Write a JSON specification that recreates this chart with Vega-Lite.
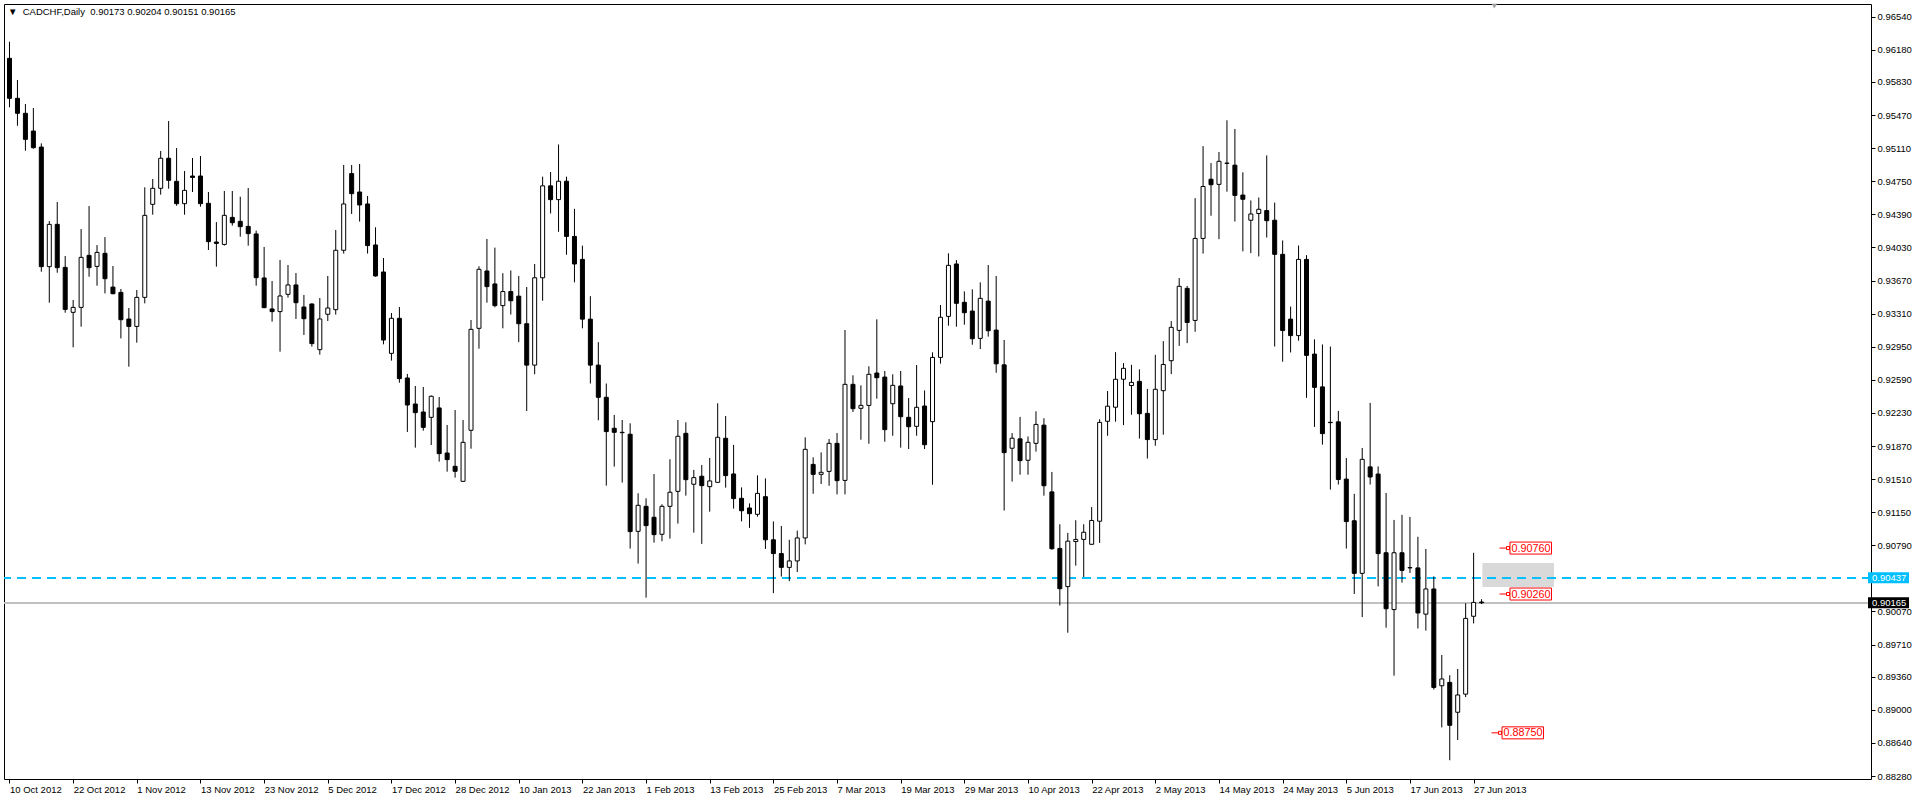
{
"$schema": "https://vega.github.io/schema/vega-lite/v6.json",
"width": 1867, "height": 775,
"autosize": {"type": "none"},
"padding": {"left": 4, "top": 4, "right": 45, "bottom": 20},
"background": "white",
"config": {"view": {"stroke": "black", "strokeWidth": 1}, "font": "Liberation Sans"},
"title": {"text": "▼\u00a0 CADCHF,Daily\u00a0 0.90173 0.90204 0.90151 0.90165", "anchor": "start", "frame": "group", "offset": -13, "dx": 4, "fontSize": 9.5, "fontWeight": "normal", "font": "Liberation Sans", "color": "black"},
"resolve": {"axis": {"x": "independent", "y": "independent"}},
"datasets": {
"ohlc": [
{"i":0,"o":0.96087,"h":0.96268,"l":0.95554,"c":0.95652},
{"i":1,"o":0.95652,"h":0.95851,"l":0.95354,"c":0.95489},
{"i":2,"o":0.95489,"h":0.95590,"l":0.95082,"c":0.95206},
{"i":3,"o":0.95296,"h":0.95547,"l":0.95104,"c":0.95115},
{"i":4,"o":0.95122,"h":0.95162,"l":0.93766,"c":0.93821},
{"i":5,"o":0.93821,"h":0.94317,"l":0.93429,"c":0.94281},
{"i":6,"o":0.94281,"h":0.94524,"l":0.93755,"c":0.93810},
{"i":7,"o":0.93813,"h":0.93937,"l":0.93320,"c":0.93356},
{"i":8,"o":0.93324,"h":0.93458,"l":0.92943,"c":0.93378},
{"i":9,"o":0.93378,"h":0.94230,"l":0.93168,"c":0.93922},
{"i":10,"o":0.93944,"h":0.94480,"l":0.93712,"c":0.93810},
{"i":11,"o":0.93824,"h":0.94056,"l":0.93614,"c":0.93976},
{"i":12,"o":0.93966,"h":0.94143,"l":0.93530,"c":0.93690},
{"i":13,"o":0.93599,"h":0.93828,"l":0.93520,"c":0.93527},
{"i":14,"o":0.93541,"h":0.93578,"l":0.93041,"c":0.93244},
{"i":15,"o":0.93251,"h":0.93371,"l":0.92733,"c":0.93171},
{"i":16,"o":0.93171,"h":0.93567,"l":0.92994,"c":0.93487},
{"i":17,"o":0.93487,"h":0.94684,"l":0.93422,"c":0.94379},
{"i":18,"o":0.94499,"h":0.94774,"l":0.94386,"c":0.94673},
{"i":19,"o":0.94673,"h":0.95079,"l":0.94604,"c":0.95000},
{"i":20,"o":0.95000,"h":0.95405,"l":0.94669,"c":0.94760},
{"i":21,"o":0.94749,"h":0.95111,"l":0.94484,"c":0.94506},
{"i":22,"o":0.94506,"h":0.94861,"l":0.94386,"c":0.94651},
{"i":23,"o":0.94807,"h":0.95003,"l":0.94633,"c":0.94792},
{"i":24,"o":0.94807,"h":0.95024,"l":0.94473,"c":0.94506},
{"i":25,"o":0.94510,"h":0.94633,"l":0.94002,"c":0.94093},
{"i":26,"o":0.94089,"h":0.94306,"l":0.93821,"c":0.94074},
{"i":27,"o":0.94063,"h":0.94644,"l":0.94050,"c":0.94379},
{"i":28,"o":0.94357,"h":0.94644,"l":0.94267,"c":0.94299},
{"i":29,"o":0.94314,"h":0.94582,"l":0.94147,"c":0.94256},
{"i":30,"o":0.94259,"h":0.94676,"l":0.94049,"c":0.94180},
{"i":31,"o":0.94177,"h":0.94213,"l":0.93614,"c":0.93701},
{"i":32,"o":0.93698,"h":0.94035,"l":0.93370,"c":0.93375},
{"i":33,"o":0.93361,"h":0.93665,"l":0.93223,"c":0.93332},
{"i":34,"o":0.93332,"h":0.93894,"l":0.92896,"c":0.93502},
{"i":35,"o":0.93520,"h":0.93839,"l":0.93484,"c":0.93622},
{"i":36,"o":0.93622,"h":0.93752,"l":0.93252,"c":0.93429},
{"i":37,"o":0.93382,"h":0.93513,"l":0.93078,"c":0.93255},
{"i":38,"o":0.93415,"h":0.93420,"l":0.92951,"c":0.92984},
{"i":39,"o":0.92918,"h":0.93480,"l":0.92864,"c":0.93252},
{"i":40,"o":0.93303,"h":0.93720,"l":0.93230,"c":0.93371},
{"i":41,"o":0.93353,"h":0.94220,"l":0.93299,"c":0.93999},
{"i":42,"o":0.93999,"h":0.94927,"l":0.93963,"c":0.94503},
{"i":43,"o":0.94833,"h":0.94927,"l":0.94394,"c":0.94615},
{"i":44,"o":0.94633,"h":0.94938,"l":0.94311,"c":0.94492},
{"i":45,"o":0.94503,"h":0.94590,"l":0.93963,"c":0.94050},
{"i":46,"o":0.94057,"h":0.94249,"l":0.93712,"c":0.93720},
{"i":47,"o":0.93763,"h":0.93915,"l":0.92976,"c":0.93023},
{"i":48,"o":0.92878,"h":0.93317,"l":0.92799,"c":0.93259},
{"i":49,"o":0.93259,"h":0.93382,"l":0.92559,"c":0.92603},
{"i":50,"o":0.92610,"h":0.92654,"l":0.92023,"c":0.92316},
{"i":51,"o":0.92327,"h":0.92523,"l":0.91852,"c":0.92233},
{"i":52,"o":0.92240,"h":0.92512,"l":0.92037,"c":0.92073},
{"i":53,"o":0.92182,"h":0.92420,"l":0.91881,"c":0.92411},
{"i":54,"o":0.92284,"h":0.92403,"l":0.91700,"c":0.91787},
{"i":55,"o":0.91794,"h":0.92099,"l":0.91591,"c":0.91722},
{"i":56,"o":0.91649,"h":0.92262,"l":0.91526,"c":0.91595},
{"i":57,"o":0.91486,"h":0.92153,"l":0.91480,"c":0.91910},
{"i":58,"o":0.92041,"h":0.93241,"l":0.91841,"c":0.93139},
{"i":59,"o":0.93150,"h":0.93825,"l":0.92929,"c":0.93792},
{"i":60,"o":0.93774,"h":0.94122,"l":0.93429,"c":0.93604},
{"i":61,"o":0.93633,"h":0.94028,"l":0.93379,"c":0.93397},
{"i":62,"o":0.93397,"h":0.93750,"l":0.93150,"c":0.93550},
{"i":63,"o":0.93550,"h":0.93780,"l":0.93300,"c":0.93450},
{"i":64,"o":0.93500,"h":0.93720,"l":0.93000,"c":0.93200},
{"i":65,"o":0.93200,"h":0.93600,"l":0.92250,"c":0.92750},
{"i":66,"o":0.92750,"h":0.93850,"l":0.92650,"c":0.93700},
{"i":67,"o":0.93700,"h":0.94800,"l":0.93450,"c":0.94700},
{"i":68,"o":0.94700,"h":0.94850,"l":0.94400,"c":0.94550},
{"i":69,"o":0.94550,"h":0.95150,"l":0.94200,"c":0.94750},
{"i":70,"o":0.94750,"h":0.94800,"l":0.93950,"c":0.94150},
{"i":71,"o":0.94150,"h":0.94450,"l":0.93650,"c":0.93850},
{"i":72,"o":0.93900,"h":0.94050,"l":0.93150,"c":0.93250},
{"i":73,"o":0.93250,"h":0.93500,"l":0.92550,"c":0.92750},
{"i":74,"o":0.92750,"h":0.93000,"l":0.92150,"c":0.92400},
{"i":75,"o":0.92400,"h":0.92550,"l":0.91439,"c":0.92027},
{"i":76,"o":0.92063,"h":0.92208,"l":0.91646,"c":0.92019},
{"i":77,"o":0.92015,"h":0.92153,"l":0.91472,"c":0.92019},
{"i":78,"o":0.91998,"h":0.92117,"l":0.90754,"c":0.90939},
{"i":79,"o":0.90942,"h":0.91356,"l":0.90591,"c":0.91225},
{"i":80,"o":0.91214,"h":0.91301,"l":0.90221,"c":0.91004},
{"i":81,"o":0.91095,"h":0.91566,"l":0.90819,"c":0.90906},
{"i":82,"o":0.90910,"h":0.91236,"l":0.90834,"c":0.91214},
{"i":83,"o":0.91214,"h":0.91726,"l":0.90863,"c":0.91367},
{"i":84,"o":0.91377,"h":0.92153,"l":0.91026,"c":0.91976},
{"i":85,"o":0.92008,"h":0.92128,"l":0.91330,"c":0.91504},
{"i":86,"o":0.91454,"h":0.91610,"l":0.90928,"c":0.91526},
{"i":87,"o":0.91541,"h":0.91664,"l":0.90805,"c":0.91439},
{"i":88,"o":0.91428,"h":0.91740,"l":0.91156,"c":0.91490},
{"i":89,"o":0.91475,"h":0.92335,"l":0.91470,"c":0.91965},
{"i":90,"o":0.91954,"h":0.92197,"l":0.91417,"c":0.91548},
{"i":91,"o":0.91566,"h":0.91882,"l":0.91189,"c":0.91298},
{"i":92,"o":0.91301,"h":0.91420,"l":0.91050,"c":0.91166},
{"i":93,"o":0.91196,"h":0.91246,"l":0.90980,"c":0.91134},
{"i":94,"o":0.91127,"h":0.91551,"l":0.91101,"c":0.91355},
{"i":95,"o":0.91319,"h":0.91518,"l":0.90750,"c":0.90850},
{"i":96,"o":0.90850,"h":0.91050,"l":0.90270,"c":0.90700},
{"i":97,"o":0.90700,"h":0.91000,"l":0.90450,"c":0.90550},
{"i":98,"o":0.90550,"h":0.90850,"l":0.90400,"c":0.90620},
{"i":99,"o":0.90620,"h":0.90950,"l":0.90500,"c":0.90870},
{"i":100,"o":0.90870,"h":0.91964,"l":0.90800,"c":0.91834},
{"i":101,"o":0.91670,"h":0.91747,"l":0.91351,"c":0.91562},
{"i":102,"o":0.91562,"h":0.91801,"l":0.91457,"c":0.91584},
{"i":103,"o":0.91594,"h":0.91946,"l":0.91438,"c":0.91899},
{"i":104,"o":0.91899,"h":0.92011,"l":0.91344,"c":0.91493},
{"i":105,"o":0.91496,"h":0.93132,"l":0.91344,"c":0.92541},
{"i":106,"o":0.92541,"h":0.92639,"l":0.92240,"c":0.92276},
{"i":107,"o":0.92280,"h":0.92530,"l":0.91939,"c":0.92312},
{"i":108,"o":0.92312,"h":0.92737,"l":0.91895,"c":0.92650},
{"i":109,"o":0.92664,"h":0.93248,"l":0.92385,"c":0.92613},
{"i":110,"o":0.92620,"h":0.92686,"l":0.91917,"c":0.92048},
{"i":111,"o":0.92330,"h":0.92650,"l":0.91982,"c":0.92530},
{"i":112,"o":0.92523,"h":0.92686,"l":0.91852,"c":0.92189},
{"i":113,"o":0.92182,"h":0.92392,"l":0.91837,"c":0.92080},
{"i":114,"o":0.92084,"h":0.92751,"l":0.91982,"c":0.92291},
{"i":115,"o":0.92305,"h":0.92475,"l":0.91837,"c":0.91884},
{"i":116,"o":0.92135,"h":0.92889,"l":0.91449,"c":0.92834},
{"i":117,"o":0.92834,"h":0.93404,"l":0.92766,"c":0.93270},
{"i":118,"o":0.93280,"h":0.93966,"l":0.93179,"c":0.93835},
{"i":119,"o":0.93850,"h":0.93893,"l":0.93168,"c":0.93422},
{"i":120,"o":0.93433,"h":0.93552,"l":0.93190,"c":0.93320},
{"i":121,"o":0.93338,"h":0.93574,"l":0.92972,"c":0.93037},
{"i":122,"o":0.93041,"h":0.93650,"l":0.92925,"c":0.93476},
{"i":123,"o":0.93446,"h":0.93839,"l":0.93060,"c":0.93124},
{"i":124,"o":0.93131,"h":0.93719,"l":0.92667,"c":0.92764},
{"i":125,"o":0.92753,"h":0.93023,"l":0.91168,"c":0.91798},
{"i":126,"o":0.91846,"h":0.92011,"l":0.91483,"c":0.91955},
{"i":127,"o":0.91948,"h":0.92187,"l":0.91558,"c":0.91711},
{"i":128,"o":0.91715,"h":0.91974,"l":0.91558,"c":0.91910},
{"i":129,"o":0.91899,"h":0.92247,"l":0.91809,"c":0.92105},
{"i":130,"o":0.92097,"h":0.92172,"l":0.91330,"c":0.91438},
{"i":131,"o":0.91371,"h":0.91588,"l":0.90741,"c":0.90753},
{"i":132,"o":0.90756,"h":0.91019,"l":0.90135,"c":0.90318},
{"i":133,"o":0.90341,"h":0.90925,"l":0.89839,"c":0.90835},
{"i":134,"o":0.90831,"h":0.91063,"l":0.90569,"c":0.90854},
{"i":135,"o":0.90854,"h":0.91019,"l":0.90445,"c":0.90932},
{"i":136,"o":0.90801,"h":0.91206,"l":0.90795,"c":0.91060},
{"i":137,"o":0.91052,"h":0.92161,"l":0.90816,"c":0.92127},
{"i":138,"o":0.92139,"h":0.92468,"l":0.91981,"c":0.92303},
{"i":139,"o":0.92292,"h":0.92891,"l":0.92135,"c":0.92596},
{"i":140,"o":0.92596,"h":0.92772,"l":0.92097,"c":0.92715},
{"i":141,"o":0.92528,"h":0.92753,"l":0.92210,"c":0.92562},
{"i":142,"o":0.92573,"h":0.92704,"l":0.91951,"c":0.92221},
{"i":143,"o":0.92225,"h":0.92491,"l":0.91734,"c":0.91940},
{"i":144,"o":0.91940,"h":0.92862,"l":0.91873,"c":0.92487},
{"i":145,"o":0.92472,"h":0.93011,"l":0.91993,"c":0.92757},
{"i":146,"o":0.92798,"h":0.93229,"l":0.92652,"c":0.93161},
{"i":147,"o":0.93128,"h":0.93697,"l":0.92959,"c":0.93607},
{"i":148,"o":0.93585,"h":0.93611,"l":0.92989,"c":0.93214},
{"i":149,"o":0.93236,"h":0.94566,"l":0.93113,"c":0.94128},
{"i":150,"o":0.94128,"h":0.95132,"l":0.93963,"c":0.94693},
{"i":151,"o":0.94772,"h":0.94948,"l":0.94375,"c":0.94712},
{"i":152,"o":0.94716,"h":0.95068,"l":0.94120,"c":0.94967},
{"i":153,"o":0.94944,"h":0.95413,"l":0.94637,"c":0.94948},
{"i":154,"o":0.94925,"h":0.95319,"l":0.94312,"c":0.94596},
{"i":155,"o":0.94600,"h":0.94847,"l":0.93987,"c":0.94554},
{"i":156,"o":0.94326,"h":0.94541,"l":0.93968,"c":0.94394},
{"i":157,"o":0.94399,"h":0.94573,"l":0.93932,"c":0.94445},
{"i":158,"o":0.94431,"h":0.95031,"l":0.94138,"c":0.94321},
{"i":159,"o":0.94326,"h":0.94518,"l":0.92952,"c":0.93955},
{"i":160,"o":0.93955,"h":0.94106,"l":0.92787,"c":0.93126},
{"i":161,"o":0.93250,"h":0.93387,"l":0.92888,"c":0.93071},
{"i":162,"o":0.93071,"h":0.94051,"l":0.93016,"c":0.93900},
{"i":163,"o":0.93900,"h":0.93946,"l":0.92394,"c":0.92856},
{"i":164,"o":0.92870,"h":0.93030,"l":0.92078,"c":0.92508},
{"i":165,"o":0.92513,"h":0.92975,"l":0.91885,"c":0.92005},
{"i":166,"o":0.92128,"h":0.92952,"l":0.91396,"c":0.92124},
{"i":167,"o":0.92133,"h":0.92252,"l":0.91451,"c":0.91506},
{"i":168,"o":0.91510,"h":0.91739,"l":0.90755,"c":0.91048},
{"i":169,"o":0.91057,"h":0.91350,"l":0.90260,"c":0.90485},
{"i":170,"o":0.90485,"h":0.91849,"l":0.90009,"c":0.91725},
{"i":171,"o":0.91643,"h":0.92339,"l":0.91451,"c":0.91533},
{"i":172,"o":0.91565,"h":0.91648,"l":0.90343,"c":0.90700},
{"i":173,"o":0.90709,"h":0.91359,"l":0.89894,"c":0.90100},
{"i":174,"o":0.90091,"h":0.91066,"l":0.89372,"c":0.90709},
{"i":175,"o":0.90709,"h":0.91121,"l":0.90384,"c":0.90517},
{"i":176,"o":0.90544,"h":0.91098,"l":0.90489,"c":0.90548},
{"i":177,"o":0.90544,"h":0.90883,"l":0.89885,"c":0.90054},
{"i":178,"o":0.90041,"h":0.90750,"l":0.89862,"c":0.90315},
{"i":179,"o":0.90315,"h":0.90452,"l":0.89221,"c":0.89244},
{"i":180,"o":0.89262,"h":0.89597,"l":0.88809,"c":0.89336},
{"i":181,"o":0.89299,"h":0.89377,"l":0.88452,"c":0.88832},
{"i":182,"o":0.88974,"h":0.89445,"l":0.88672,"c":0.89162},
{"i":183,"o":0.89171,"h":0.90160,"l":0.89139,"c":0.89995},
{"i":184,"o":0.90018,"h":0.90709,"l":0.89940,"c":0.90169},
{"i":185,"o":0.90173,"h":0.90204,"l":0.90151,"c":0.90165}
],
"zone": [{"i0":185.1,"i1":194.1,"p0":0.90336,"p1":0.90597}],
"labels": [
{"i":187,"p":0.90760,"t":"0.90760"},
{"i":187,"p":0.90260,"t":"0.90260"},
{"i":186,"p":0.88750,"t":"0.88750"}
]
},
"layer": [
{
"data": {"name": "zone"},
"mark": {"type": "rect", "color": "#d9d9d9"},
"encoding": {
"x": {"field": "i0", "type": "quantitative", "scale": {"domain": [-0.0625, 233.3125], "nice": false, "zero": false}, "axis": null},
"x2": {"field": "i1"},
"y": {"field": "p1", "type": "quantitative", "scale": {"domain": [0.88248, 0.96678], "nice": false, "zero": false}, "axis": null},
"y2": {"field": "p0"}
}
},
{
"data": {"name": "ohlc"},
"mark": {"type": "rule", "color": "#c0c0c0", "strokeWidth": 1},
"encoding": {"y": {"datum": 0.90165, "type": "quantitative", "scale": {"domain": [0.88248, 0.96678], "nice": false, "zero": false}, "axis": null}}
},
{
"data": {"name": "ohlc"},
"mark": {"type": "rule", "color": "#00bfff", "strokeWidth": 1, "strokeDash": [9, 6]},
"encoding": {"y": {"datum": 0.90437, "type": "quantitative", "scale": {"domain": [0.88248, 0.96678], "nice": false, "zero": false}, "axis": null}}
},
{
"data": {"name": "ohlc"},
"mark": {"type": "rule", "color": "black", "strokeWidth": 1},
"encoding": {
"x": {"field": "i", "type": "quantitative", "scale": {"domain": [-0.0625, 233.3125], "nice": false, "zero": false},
 "axis": {"orient": "bottom", "title": null, "grid": false, "domain": false,
  "values": [0,8,16,24,32,40,48,56,64,72,80,88,96,104,112,120,128,136,144,152,160,168,176,184],
  "labelExpr": "['10 Oct 2012','22 Oct 2012','1 Nov 2012','13 Nov 2012','23 Nov 2012','5 Dec 2012','17 Dec 2012','28 Dec 2012','10 Jan 2013','22 Jan 2013','1 Feb 2013','13 Feb 2013','25 Feb 2013','7 Mar 2013','19 Mar 2013','29 Mar 2013','10 Apr 2013','22 Apr 2013','2 May 2013','14 May 2013','24 May 2013','5 Jun 2013','17 Jun 2013','27 Jun 2013'][round(datum.value/8)]",
  "labelAlign": "left", "labelBaseline": "middle", "labelPadding": 6, "labelDx": 1, "labelFont": "Liberation Sans", "labelFontSize": 9.5, "labelColor": "black",
  "tickColor": "black", "tickSize": 4, "labelOverlap": false, "labelFlush": false, "labelBound": false}},
"y": {"field": "l", "type": "quantitative", "scale": {"domain": [0.88248, 0.96678], "nice": false, "zero": false},
 "axis": {"orient": "right", "title": null, "grid": false, "domain": false,
  "values": [0.9654,0.9618,0.9583,0.9547,0.9511,0.9475,0.9439,0.9403,0.9367,0.9331,0.9295,0.9259,0.9223,0.9187,0.9151,0.9115,0.9079,0.9007,0.8971,0.8936,0.89,0.8864,0.8828],
  "format": ".5f", "labelFont": "Liberation Sans", "labelFontSize": 9.5, "labelColor": "black", "labelBaseline": "middle", "labelPadding": 2,
  "tickColor": "black", "tickSize": 4, "labelOverlap": false, "labelFlush": false, "labelBound": false}},
"y2": {"field": "h"}
}
},
{
"data": {"name": "ohlc"},
"mark": {"type": "bar", "width": 4, "stroke": "black", "strokeWidth": 1},
"encoding": {
"x": {"field": "i", "type": "quantitative", "scale": {"domain": [-0.0625, 233.3125], "nice": false, "zero": false}, "axis": null},
"y": {"field": "o", "type": "quantitative", "scale": {"domain": [0.88248, 0.96678], "nice": false, "zero": false}, "axis": null},
"y2": {"field": "c"},
"fill": {"condition": {"test": "datum.c < datum.o", "value": "black"}, "value": "white"}
}
},
{
"data": {"name": "labels"},
"mark": {"type": "rule", "color": "red", "strokeWidth": 1, "xOffset": 2, "x2Offset": 10},
"encoding": {
"x": {"field": "i", "type": "quantitative", "scale": {"domain": [-0.0625, 233.3125], "nice": false, "zero": false}, "axis": null},
"x2": {"field": "i"},
"y": {"field": "p", "type": "quantitative", "scale": {"domain": [0.88248, 0.96678], "nice": false, "zero": false}, "axis": null}
}
},
{
"data": {"name": "labels"},
"mark": {"type": "rect", "fill": "white", "stroke": "red", "strokeWidth": 1, "xOffset": 9, "x2Offset": 12, "yOffset": -1.5, "y2Offset": 1.5},
"encoding": {
"x": {"field": "i", "type": "quantitative", "scale": {"domain": [-0.0625, 233.3125], "nice": false, "zero": false}, "axis": null},
"x2": {"field": "i"},
"y": {"field": "p", "type": "quantitative", "scale": {"domain": [0.88248, 0.96678], "nice": false, "zero": false}, "axis": null},
"y2": {"field": "p"}
}
},
{
"data": {"name": "labels"},
"mark": {"type": "rect", "fill": "white", "stroke": "red", "strokeWidth": 1, "xOffset": 12.5, "x2Offset": 54, "yOffset": -6, "y2Offset": 6},
"encoding": {
"x": {"field": "i", "type": "quantitative", "scale": {"domain": [-0.0625, 233.3125], "nice": false, "zero": false}, "axis": null},
"x2": {"field": "i"},
"y": {"field": "p", "type": "quantitative", "scale": {"domain": [0.88248, 0.96678], "nice": false, "zero": false}, "axis": null},
"y2": {"field": "p"}
}
},
{
"data": {"name": "labels"},
"mark": {"type": "text", "color": "red", "align": "left", "baseline": "middle", "dx": 14, "dy": 0.5, "font": "Liberation Sans", "fontSize": 10.8},
"encoding": {
"x": {"field": "i", "type": "quantitative", "scale": {"domain": [-0.0625, 233.3125], "nice": false, "zero": false}, "axis": null},
"y": {"field": "p", "type": "quantitative", "scale": {"domain": [0.88248, 0.96678], "nice": false, "zero": false}, "axis": null},
"text": {"field": "t"}
}
},
{
"data": {"name": "zone"},
"mark": {"type": "rect", "color": "#00bfff", "xOffset": 2, "x2Offset": 43, "yOffset": -5.5, "y2Offset": 5.5},
"encoding": {
"x": {"datum": 233.3125, "type": "quantitative", "scale": {"domain": [-0.0625, 233.3125], "nice": false, "zero": false}, "axis": null},
"x2": {"datum": 233.3125},
"y": {"datum": 0.90437, "type": "quantitative", "scale": {"domain": [0.88248, 0.96678], "nice": false, "zero": false}, "axis": null},
"y2": {"datum": 0.90437}
}
},
{
"data": {"name": "zone"},
"mark": {"type": "rect", "color": "black", "xOffset": 2, "x2Offset": 43, "yOffset": -5.5, "y2Offset": 5.5},
"encoding": {
"x": {"datum": 233.3125, "type": "quantitative", "scale": {"domain": [-0.0625, 233.3125], "nice": false, "zero": false}, "axis": null},
"x2": {"datum": 233.3125},
"y": {"datum": 0.90165, "type": "quantitative", "scale": {"domain": [0.88248, 0.96678], "nice": false, "zero": false}, "axis": null},
"y2": {"datum": 0.90165}
}
},
{
"data": {"name": "zone"},
"mark": {"type": "text", "color": "white", "align": "left", "baseline": "middle", "dx": 6, "font": "Liberation Sans", "fontSize": 9.5},
"encoding": {
"x": {"datum": 233.3125, "type": "quantitative", "scale": {"domain": [-0.0625, 233.3125], "nice": false, "zero": false}, "axis": null},
"y": {"datum": 0.90437, "type": "quantitative", "scale": {"domain": [0.88248, 0.96678], "nice": false, "zero": false}, "axis": null},
"text": {"value": "0.90437"}
}
},
{
"data": {"name": "zone"},
"mark": {"type": "text", "color": "white", "align": "left", "baseline": "middle", "dx": 6, "font": "Liberation Sans", "fontSize": 9.5},
"encoding": {
"x": {"datum": 233.3125, "type": "quantitative", "scale": {"domain": [-0.0625, 233.3125], "nice": false, "zero": false}, "axis": null},
"y": {"datum": 0.90165, "type": "quantitative", "scale": {"domain": [0.88248, 0.96678], "nice": false, "zero": false}, "axis": null},
"text": {"value": "0.90165"}
}
},
{
"data": {"name": "zone"},
"mark": {"type": "point", "shape": "triangle-down", "filled": true, "color": "#a0a0a0", "size": 30, "opacity": 1},
"encoding": {
"x": {"datum": 186.6, "type": "quantitative", "scale": {"domain": [-0.0625, 233.3125], "nice": false, "zero": false}, "axis": null},
"y": {"datum": 0.96655, "type": "quantitative", "scale": {"domain": [0.88248, 0.96678], "nice": false, "zero": false}, "axis": null}
}
}
]
}
